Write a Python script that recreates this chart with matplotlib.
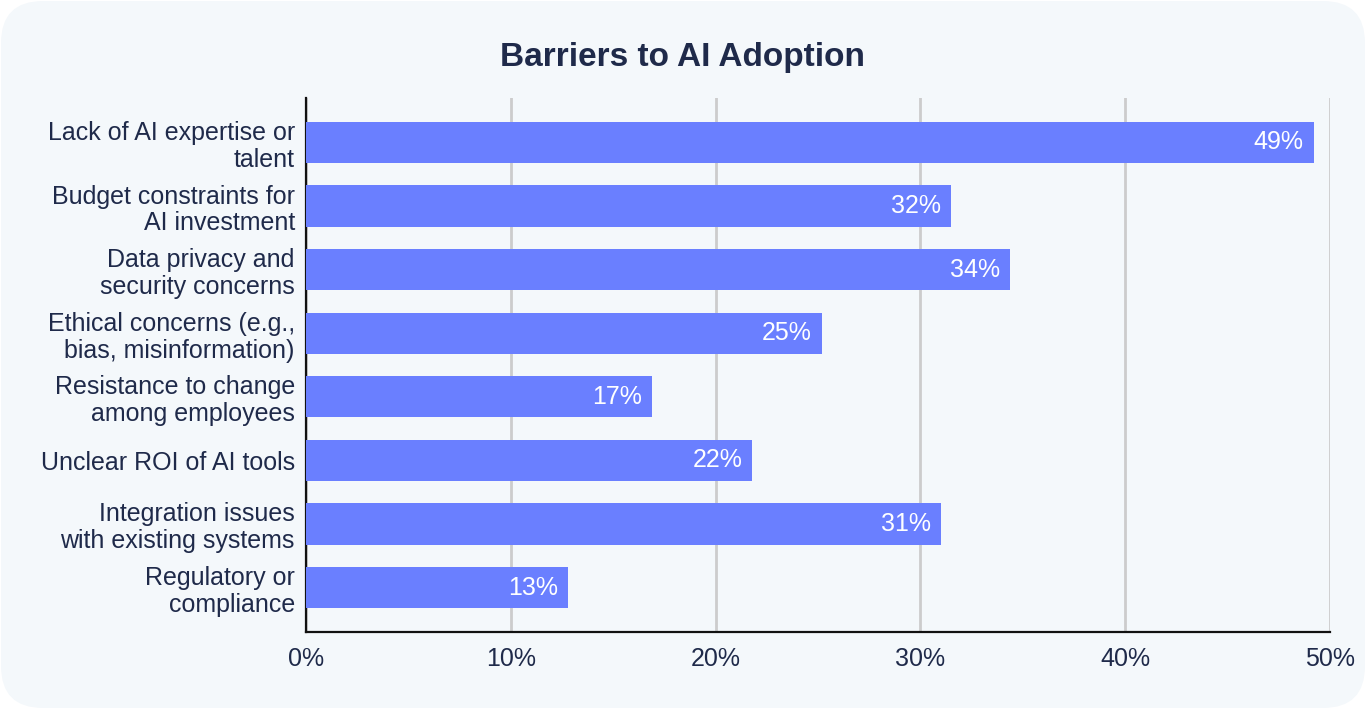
import matplotlib.pyplot as plt
from matplotlib.patches import FancyBboxPatch

plt.rcParams['font.family'] = ['Liberation Sans', 'DejaVu Sans']

categories = [
    'Lack of AI expertise or\ntalent',
    'Budget constraints for\nAI investment',
    'Data privacy and\nsecurity concerns',
    'Ethical concerns (e.g.,\nbias, misinformation)',
    'Resistance to change\namong employees',
    'Unclear ROI of AI tools',
    'Integration issues\nwith existing systems',
    'Regulatory or\ncompliance',
]
values = [49.2, 31.5, 34.4, 25.2, 16.9, 21.8, 31.0, 12.8]
ticks = [0, 10, 20, 30, 40, 50]

text_col = '#1f2a4a'
bar_col = '#6a7fff'

fig = plt.figure(figsize=(13.66, 7.09), dpi=100)
fig.patch.set_facecolor('white')
card = FancyBboxPatch((1, 1), 1364, 707, boxstyle='round,pad=0,rounding_size=42',
                      transform=None, facecolor='#f4f8fb', edgecolor='none', zorder=-10)
fig.patches.append(card)

ax = fig.add_axes([0.224, 0.1086, 0.7496, 0.7532])
ax.set_facecolor('none')

y = range(len(categories))
ax.barh(y, values, height=0.65, color=bar_col, zorder=3)
for i, v in enumerate(values):
    ax.text(v - 0.5, i, f'{round(v)}%', color='white', fontsize=18,
            ha='right', va='center', zorder=4)

ax.set_xlim(0, 50)
ax.set_ylim(7.7, -0.7)
ax.set_xticks(ticks)
ax.set_xticklabels([f'{t}%' for t in ticks], fontsize=18, color=text_col)
ax.set_yticks(list(y))
ax.set_yticklabels(categories, fontsize=18, color=text_col, linespacing=1.15)
ax.tick_params(axis='x', length=0, pad=11)
ax.tick_params(axis='y', length=0, pad=8)
ax.xaxis.grid(True, color='#cccccc', linewidth=2, zorder=0)
for s in ['top', 'right']:
    ax.spines[s].set_visible(False)
for s in ['left', 'bottom']:
    ax.spines[s].set_color('#111111')
    ax.spines[s].set_linewidth(1.6)

fig.text(0.5, 0.919, 'Barriers to AI Adoption', ha='center', va='center',
         fontsize=24, fontweight='bold', color=text_col)

fig.savefig('out.png', dpi=100)
